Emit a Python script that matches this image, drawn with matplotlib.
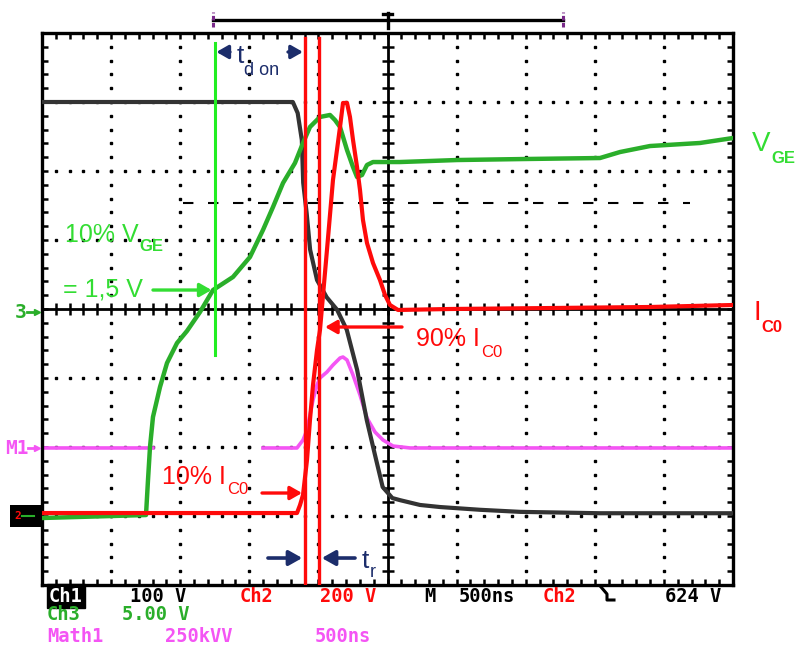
import numpy as np
import matplotlib
matplotlib.use("Agg")
import matplotlib.pyplot as plt
from matplotlib.lines import Line2D
from matplotlib.patches import Rectangle

# screen is 10 x 8 divisions, 500 ns/div
# traces, in divisions (x from left edge, y from bottom edge)

# Ch1: V_CE (dark trace)
vce_x = [0, 3.63, 3.70, 3.76, 3.78, 3.83, 3.88, 3.98, 4.12, 4.27, 4.41, 4.56, 4.70, 4.82,
         4.93, 5.07, 5.18, 5.47, 5.76, 6.34, 6.92, 8.08, 10]
vce_y = [7.0, 7.0, 6.84, 6.45, 5.83, 5.39, 4.86, 4.42, 4.17, 3.99, 3.70, 3.12, 2.39, 1.88,
         1.42, 1.26, 1.23, 1.16, 1.13, 1.09, 1.06, 1.04, 1.04]

# Ch3: V_GE (green)
vge_x = [0, 1.505, 1.534, 1.563, 1.606, 1.708, 1.809, 1.954, 2.098, 2.287, 2.475, 2.764,
         3.010, 3.198, 3.343, 3.488, 3.661, 3.777, 3.878, 4.023, 4.168, 4.240, 4.313, 4.414,
         4.501, 4.559, 4.631, 4.703, 4.790, 5.181, 6.006, 7.004, 8.075, 8.365, 8.799, 9.522, 10]
vge_y = [0.971, 1.014, 1.522, 2.0, 2.435, 2.870, 3.217, 3.507, 3.681, 3.957, 4.275, 4.464,
         4.754, 5.145, 5.478, 5.826, 6.116, 6.406, 6.638, 6.783, 6.812, 6.739, 6.638, 6.304,
         6.058, 5.913, 5.942, 6.087, 6.130, 6.130, 6.159, 6.174, 6.188, 6.275, 6.362, 6.406, 6.478]

# Ch2: I_C (red)
ic_x = [0, 3.690, 3.734, 3.777, 3.835, 3.878, 3.922, 3.980, 4.023, 4.124, 4.211, 4.313,
        4.356, 4.414, 4.457, 4.501, 4.559, 4.602, 4.645, 4.703, 4.790, 4.891, 4.964, 5.036,
        5.152, 5.904, 7.352, 8.799, 10]
ic_y = [1.043, 1.043, 1.159, 1.304, 1.812, 2.391, 2.899, 3.406, 3.696, 4.855, 5.870, 6.638,
        6.986, 6.986, 6.783, 6.449, 6.058, 5.725, 5.290, 4.957, 4.667, 4.420, 4.203, 4.058,
        3.986, 4.0, 4.014, 4.029, 4.058]

# Math1: power (magenta), gap where it is hidden
pw_x = [0, 1.606, np.nan, 3.198, 3.690, 3.777, 3.835, 3.878, 3.922, 3.980, 4.023, 4.124,
        4.211, 4.313, 4.356, 4.414, 4.501, 4.602, 4.703, 4.819, 4.935, 5.080, 5.326, 10]
pw_y = [1.986, 1.986, np.nan, 1.986, 1.986, 2.101, 2.246, 2.464, 2.681, 2.899, 3.0, 3.087,
        3.188, 3.290, 3.304, 3.261, 3.043, 2.754, 2.420, 2.217, 2.101, 2.014, 1.986, 1.986]

# cursors and markers
cur_vge10 = 2.504
cur_ic = [3.806, 4.009]
level_vge10 = 4.275
level_ic10 = 1.333
level_ic90 = 3.739
dash_level = 5.536

c_black = "#333333"
c_trace_green = "#2aae2a"
c_green = "#33dd33"
c_cursor_green = "#22ee22"
c_red = "#ff0a0a"
c_mag = "#f455f4"
c_navy = "#1c2d6b"
c_purple = "#7a2a8a"

W, H = 796, 649
fig = plt.figure(figsize=(W / 100, H / 100), dpi=100)
ax = fig.add_axes([42 / W, 64 / H, 691 / W, 552 / H])
ax.set_xlim(0, 10)
ax.set_ylim(0, 8)
renderer = fig.canvas.get_renderer()

def fx(px):
    return px / W

def fy(py):
    return 1 - py / H

for s in ax.spines.values():
    s.set_linewidth(2.4)
ax.set_xticks(np.arange(0, 10.01, 1))
ax.set_yticks(np.arange(0, 8.01, 1))
ax.set_xticks(np.arange(0, 10.01, 0.2), minor=True)
ax.set_yticks(np.arange(0, 8.01, 0.2), minor=True)
ax.tick_params(which="both", direction="in", top=True, right=True, length=4.5, width=1.8,
               labelbottom=False, labelleft=False)

# dotted graticule
sub_x = np.arange(0.2, 10, 0.2)
sub_y = np.arange(0.2, 8, 0.2)
for gx in [1, 2, 3, 4, 6, 7, 8, 9]:
    ax.plot(np.full(len(sub_y), gx), sub_y, ls="none", marker="s", ms=2.0, color="k", zorder=1)
for gy in [1, 2, 3, 5, 6, 7]:
    ax.plot(sub_x, np.full(len(sub_x), gy), ls="none", marker="s", ms=2.0, color="k", zorder=1)

# centre crosshair with ticks
ax.axvline(5, color="k", lw=2.0, zorder=1)
ax.axhline(4, color="k", lw=2.0, zorder=1)
ax.plot(np.full(len(sub_y), 5), sub_y, ls="none", marker="_", ms=8, mew=1.8, color="k", zorder=1)
ax.plot(sub_x, np.full(len(sub_x), 4), ls="none", marker="|", ms=8, mew=1.8, color="k", zorder=1)

# dashed cursor line
ax.plot([2.04, 9.38], [dash_level, dash_level], color="k", lw=1.5, ls=(0, (5, 7)), zorder=1)

# traces
ax.plot(pw_x, pw_y, color=c_mag, lw=2.6, zorder=2)
ax.plot(vce_x, vce_y, color=c_black, lw=3.0, zorder=3)
ax.plot(vge_x, vge_y, color=c_trace_green, lw=3.2, zorder=4)
ax.plot(ic_x, ic_y, color=c_red, lw=3.0, zorder=5)

# cursors
ax.plot([cur_vge10, cur_vge10], [3.333, 7.855], color=c_cursor_green, lw=2.2, zorder=6)
for c in cur_ic:
    ax.plot([c, c], [0, 7.93], color=c_red, lw=2.4, zorder=6)

# arrows
def arrow(x0, x1, y, color, lw=2.4, hl=0.7, hw=0.4):
    ax.annotate("", xy=(x1, y), xytext=(x0, y),
                arrowprops=dict(arrowstyle="-|>,head_length=%s,head_width=%s" % (hl, hw),
                                lw=lw, color=color, shrinkA=0, shrinkB=0), zorder=7)

arrow(2.72, cur_vge10 + 0.02, 7.725, c_navy, lw=2.4, hl=0.7, hw=0.4)
arrow(3.56, cur_ic[0] - 0.03, 7.725, c_navy, lw=2.4, hl=0.7, hw=0.4)
arrow(3.27, cur_ic[0] - 0.04, 0.391, c_navy, lw=2.6, hl=0.8, hw=0.45)
arrow(4.53, cur_ic[1] + 0.04, 0.391, c_navy, lw=2.6, hl=0.8, hw=0.45)
arrow(1.606, cur_vge10 - 0.05, level_vge10, c_green, lw=2.4)
arrow(3.184, 3.763, level_ic10, c_red, lw=2.4)
arrow(5.21, 4.096, level_ic90, c_red, lw=2.4)

# labels: main text, subscript placed right after it
lab = "Liberation Sans"
def label(px, py, s, sub, dy, color, size=18, subsize=12, subweight="bold", gap=1):
    t = fig.text(fx(px), fy(py), s, color=color, fontsize=size, family=lab, va="baseline")
    bb = t.get_window_extent(renderer)
    fig.text((bb.x1 + gap) / W, fy(py + dy), sub, color=color, fontsize=subsize, family=lab,
             weight=subweight, va="baseline")

label(237, 63, "t", "d on", 12, c_navy, size=19, subsize=13, subweight="normal", gap=0)
label(362, 568, "t", "r", 9, c_navy, size=19, subsize=13, subweight="normal", gap=0)
label(65, 242, "10% V", "GE", 9, c_green)
fig.text(fx(63), fy(296), "= 1,5 V", color=c_green, fontsize=18, family=lab, va="baseline")
label(752, 151, "V", "GE", 12, c_green, size=20)
label(753, 320, "I", "C0", 12, c_red, size=20)
label(416, 346, "90% I", "C0", 11, c_red, subweight="normal")
label(162, 484, "10% I", "C0", 10, c_red, subweight="normal")

# top record bar
ax.plot([2.475, 7.54], [8.19, 8.19], color="k", lw=2.4, clip_on=False)
ax.plot([5.0, 5.0], [8.07, 8.29], color="k", lw=2.4, clip_on=False)
ax.plot([4.93, 5.07], [8.28, 8.28], color="k", lw=2.4, clip_on=False)
for bx in [2.475, 7.54]:
    ax.plot([bx, bx], [8.09, 8.31], color=c_purple, lw=2.2, ls=(0, (1.5, 0.8)), clip_on=False)

# channel markers on the left
mono = "DejaVu Sans Mono"
fig.text(fx(15), fy(312), "3", color=c_trace_green, fontsize=14, family=mono,
         weight="bold", va="center")
fig.text(fx(5), fy(448), "M1", color=c_mag, fontsize=14, family=mono, weight="bold",
         va="center")
for yy, cc, x0 in [(312, c_trace_green, 27), (448, c_mag, 28)]:
    fig.add_artist(Line2D([fx(x0), fx(37)], [fy(yy), fy(yy)], color=cc, lw=2))
    fig.add_artist(Line2D([fx(37)], [fy(yy)], marker=">", ms=5, color=cc, ls="none"))
fig.add_artist(Rectangle((fx(10), fy(527)), 32 / W, 22 / H, color="k", lw=0))
fig.text(fx(14), fy(516), "2", color=c_red, fontsize=8, family=mono, weight="bold",
         va="center")
fig.add_artist(Line2D([fx(22), fx(34)], [fy(516), fy(516)], color=c_trace_green, lw=1.5))

# readout rows
def readout(px, py, s, color, **kw):
    fig.text(fx(px), fy(py), s, color=color, fontsize=13.5, family=mono, weight="bold",
             va="center", **kw)

readout(49, 596, "Ch1", "white",
        bbox=dict(facecolor="black", edgecolor="black", pad=1.5))
readout(130, 596, "100 V", "k")
readout(240, 596, "Ch2", c_red)
readout(320, 596, "200 V", c_red)
readout(424, 596, "M", "k")
readout(459, 596, "500ns", "k")
readout(543, 596, "Ch2", c_red)
fig.add_artist(Line2D([fx(601), fx(607), fx(607), fx(614)],
                      [fy(587), fy(594), fy(600), fy(600)], color="k", lw=2.2))
readout(665, 596, "624 V", "k")
readout(47, 615, "Ch3", c_trace_green)
readout(122, 615, "5.00 V", c_trace_green)
readout(47, 637, "Math1", c_mag)
readout(165, 637, "250kVV", c_mag)
readout(315, 637, "500ns", c_mag)

fig.savefig("out.png", dpi=100)
